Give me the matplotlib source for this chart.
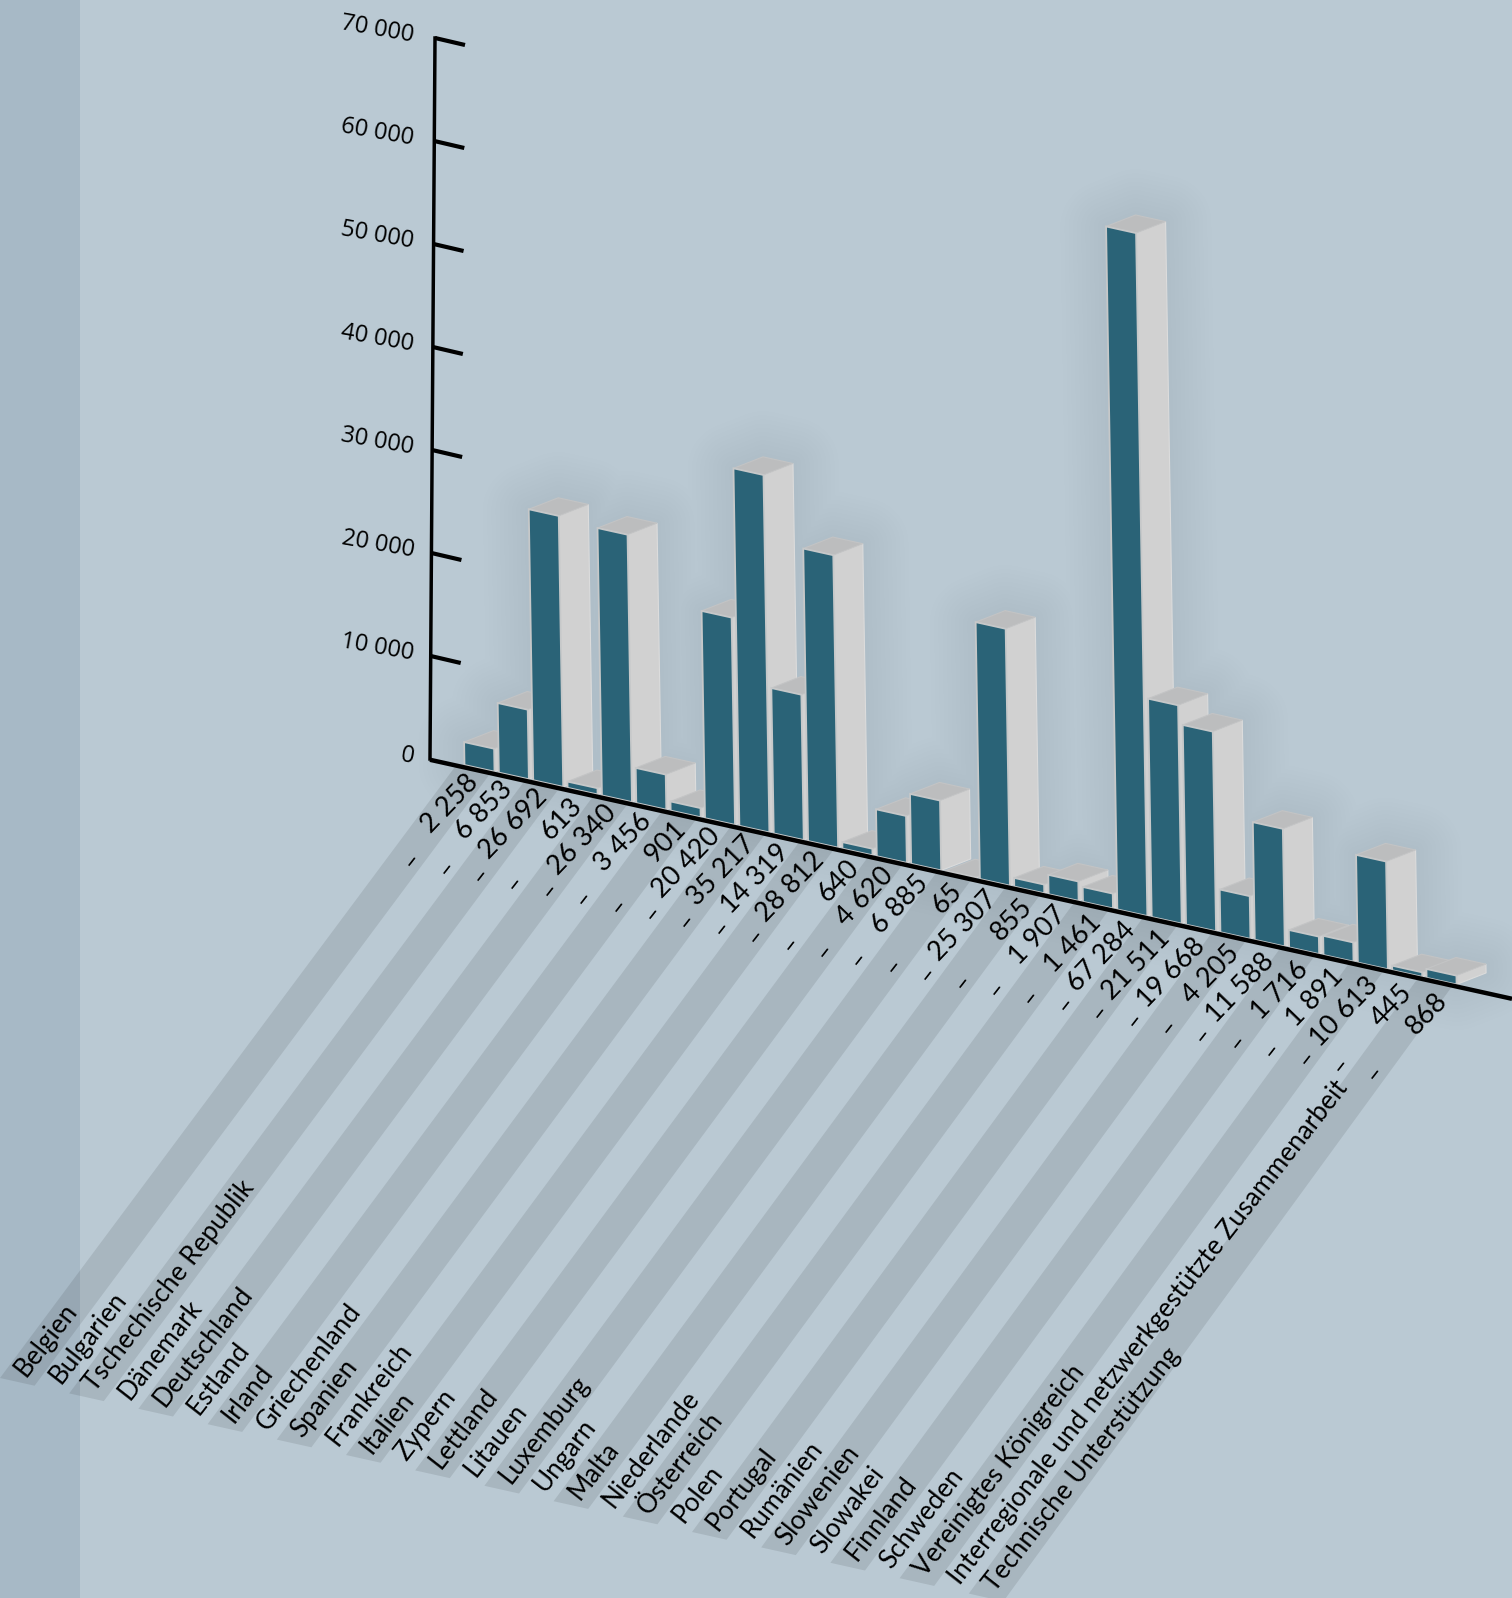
import matplotlib
matplotlib.use('Agg')
import matplotlib.pyplot as plt
from matplotlib.patches import Polygon, PathPatch, Rectangle
from matplotlib.path import Path

countries = ['Belgien', 'Bulgarien', 'Tschechische Republik', 'Dänemark', 'Deutschland', 'Estland',
             'Irland', 'Griechenland', 'Spanien', 'Frankreich', 'Italien', 'Zypern', 'Lettland',
             'Litauen', 'Luxemburg', 'Ungarn', 'Malta', 'Niederlande', 'Österreich', 'Polen',
             'Portugal', 'Rumänien', 'Slowenien', 'Slowakei', 'Finnland', 'Schweden',
             'Vereinigtes Königreich', 'Interregionale und netzwerkgestützte Zusammenarbeit',
             'Technische Unterstützung']
values = [2258, 6853, 26692, 613, 26340, 3456, 901, 20420, 35217, 14319, 28812, 640, 4620, 6885,
          65, 25307, 855, 1907, 1461, 67284, 21511, 19668, 4205, 11588, 1716, 1891, 10613, 445, 868]
second_column = ['–'] * len(countries)
axis_ticks = [0, 10000, 20000, 30000, 40000, 50000, 60000, 70000]

BG = '#bac9d3'
STRIP = '#a7b9c6'
FRONT = '#2a6377'
SIDE = '#d1d1d1'
TOP = '#bcbdbe'
EDGE = '#c6c8c9'
FONT = 'Lato'

# oblique projection, all in canvas pixels with y pointing down
ORIGIN = (464.5, 765.0)
PITCH = (34.36, 7.6)
WIDTH = (30.0, 6.64)
DEPTH = (29.5, -11.5)
BAR_UNIT = 10.15 / 1000
LEAN = -0.0165


def project(pos, value, across=0.0, depth=0.0):
    h = value * BAR_UNIT
    x = ORIGIN[0] + pos * PITCH[0] + across * WIDTH[0] + depth * DEPTH[0] + LEAN * h
    y = ORIGIN[1] + pos * PITCH[1] + across * WIDTH[1] + depth * DEPTH[1] - h
    return x, y


def baseline_y(x):
    return 760.0 + 0.2209 * (x - 431.0)


def axis_point(value):
    # vertical axis leans slightly the other way from the bars
    frac = value / 70000
    return 430.0 + 5.0 * frac, 759.0 - 721.0 * frac


def fmt(v):
    return f'{v:,}'.replace(',', ' ')


def silhouette(i, v):
    return [project(i, 0), project(i, 0, 1), project(i, 0, 1, 1), project(i, v, 1, 1),
            project(i, v, 0, 1), project(i, v)]


fig = plt.figure(figsize=(15.12, 15.98), dpi=100, facecolor=BG)
ax = fig.add_axes([0, 0, 1, 1])
ax.set_xlim(0, 1512)
ax.set_ylim(1598, 0)
ax.axis('off')

ax.add_patch(Rectangle((0, 0), 79.5, 1598, fc=STRIP, ec='none', zorder=1))

# alternating floor bands, every second country
for i in range(0, len(countries), 2):
    top_l = 456.0 + 34.36 * i
    top_r = top_l + 34.5
    ax.add_patch(Polygon([(top_l, baseline_y(top_l)), (top_r, baseline_y(top_r)),
                          (34.6 * i + 34.6, 1378 + 7.7 * i + 7.7), (34.6 * i, 1378 + 7.7 * i)],
                         closed=True, fc='black', ec='none', alpha=0.095, zorder=2))

# soft glow behind the bars, one compound path so overlaps do not stack up
outlines = [Path(silhouette(i, v) + [silhouette(i, v)[0]], closed=True) for i, v in enumerate(values)]
glow = Path.make_compound_path(*outlines)
for lw in range(6, 72, 6):
    ax.add_patch(PathPatch(glow, fc='#1c3a4c', ec='#1c3a4c', lw=lw, alpha=0.0035, zorder=3,
                           joinstyle='round'))

for i, v in enumerate(values):
    z = 4 + i * 0.01
    front = [project(i, 0), project(i, 0, 1), project(i, v, 1), project(i, v)]
    side = [project(i, 0, 1), project(i, 0, 1, 1), project(i, v, 1, 1), project(i, v, 1)]
    top = [project(i, v), project(i, v, 1), project(i, v, 1, 1), project(i, v, 0, 1)]
    ax.add_patch(Polygon(side, closed=True, fc=SIDE, ec='#dcdcdc', lw=0.8, zorder=z))
    ax.add_patch(Polygon(top, closed=True, fc=TOP, ec='#c3c4c5', lw=0.8, zorder=z))
    ax.add_patch(Polygon(front, closed=True, fc=FRONT, ec=EDGE, lw=1.3, zorder=z))

# axis, ticks and baseline
ax0 = axis_point(0)
ax1 = axis_point(70000)
ax.plot([ax0[0], ax1[0]], [ax0[1], ax1[1]], color='black', lw=2.5, solid_capstyle='projecting', zorder=6)
ax.plot([430, 1512], [baseline_y(430), baseline_y(1512)], color='black', lw=3.2,
        solid_capstyle='butt', zorder=6)
for t in axis_ticks:
    x, y = axis_point(t)
    if t > 0:
        ax.plot([x, x + 30], [y, y + 7], color='black', lw=3.0, solid_capstyle='butt', zorder=6)
    ax.text(414, y - 2, fmt(t), ha='right', va='center', rotation=-10, rotation_mode='anchor',
            fontsize=17, family='Open Sans', color='black', zorder=7)

# table rows lying on the floor
for i, name in enumerate(countries):
    ax.text(20 + 34.6 * i, 1373 + 7.7 * i, name, ha='left', va='center', rotation=52,
            rotation_mode='anchor', fontsize=18.8, family=FONT, color='black', zorder=7)
    ax.text(412 + 34.4 * i, 860 + 7.6 * i, second_column[i], ha='center', va='center', rotation=52,
            rotation_mode='anchor', fontsize=18, family=FONT, color='black', zorder=7)
    ax.text(474 + 34.6 * i, 778 + 7.8 * i, fmt(values[i]), ha='right', va='center', rotation=46,
            rotation_mode='anchor', fontsize=19.5, family=FONT, color='black', zorder=7)

fig.savefig('out.png', dpi=100, facecolor=BG)
